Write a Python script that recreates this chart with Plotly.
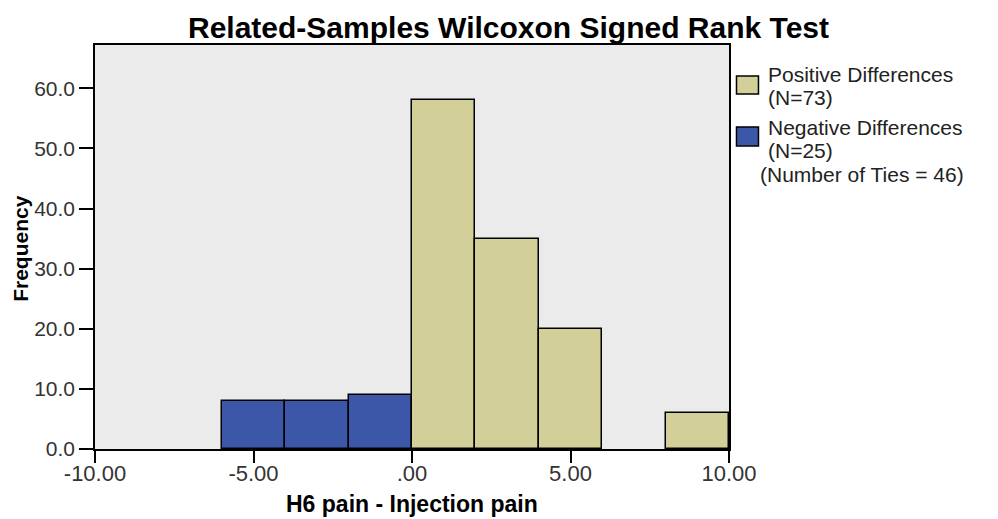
import plotly.graph_objects as go

# Data
neg_centers = [-5, -3, -1]
neg_counts = [8, 8, 9]
pos_centers = [1, 3, 5, 9]
pos_counts = [58, 35, 20, 6]
bin_width = 2
x_ticks = [-10, -5, 0, 5, 10]
x_tick_labels = ["-10.00", "-5.00", ".00", "5.00", "10.00"]
y_ticks = [0, 10, 20, 30, 40, 50, 60]
y_tick_labels = ["0.0", "10.0", "20.0", "30.0", "40.0", "50.0", "60.0"]
legend_pos = ["Positive Differences", "(N=73)"]
legend_neg = ["Negative Differences", "(N=25)"]
ties_text = "(Number of Ties = 46)"

POS_COLOR = "#D3CF98"
NEG_COLOR = "#3C57A8"
FONT = "Liberation Sans, Arial, sans-serif"

fig = go.Figure()
fig.add_trace(go.Bar(x=neg_centers, y=neg_counts, width=bin_width,
                     marker=dict(color=NEG_COLOR, line=dict(color="black", width=1.5)),
                     name="Negative Differences", showlegend=False))
fig.add_trace(go.Bar(x=pos_centers, y=pos_counts, width=bin_width,
                     marker=dict(color=POS_COLOR, line=dict(color="black", width=1.5)),
                     name="Positive Differences", showlegend=False))

# target image geometry (page has an 8px body margin)
OFF = 8
W, H = 998, 519
L, R, T, B = 95, 729.5, 45, 449.5

def px(xp):
    return (xp - L) / (R - L)

def py(yp):
    return (B - yp) / (B - T)

annotations = [
    dict(text="<b>Related-Samples Wilcoxon Signed Rank Test</b>", x=px(509), y=py(9),
         xref="paper", yref="paper", xanchor="center", yanchor="top", showarrow=False,
         font=dict(family=FONT, size=30, color="black")),
    dict(text="<b>Frequency</b>", x=px(21), y=py(249), xref="paper", yref="paper",
         xanchor="center", yanchor="middle", textangle=-90, showarrow=False,
         font=dict(family=FONT, size=21, color="black")),
    dict(text="<b>H6 pain - Injection pain</b>", x=px(412), y=py(505), xref="paper", yref="paper",
         xanchor="center", yanchor="middle", showarrow=False,
         font=dict(family=FONT, size=23, color="black")),
]
legend_lines = [(legend_pos[0], 767, 75), (legend_pos[1], 767, 98),
                (legend_neg[0], 767, 128), (legend_neg[1], 767, 151),
                (ties_text, 759, 175)]
for txt, xl, yc in legend_lines:
    annotations.append(dict(text=txt, x=px(xl), y=py(yc), xref="paper", yref="paper",
                            xanchor="left", yanchor="middle", showarrow=False,
                            font=dict(family=FONT, size=21, color="#222222")))

shapes = [
    dict(type="rect", xref="paper", yref="paper", x0=px(737), x1=px(759), y0=py(76), y1=py(94),
         fillcolor=POS_COLOR, line=dict(color="black", width=1.5)),
    dict(type="rect", xref="paper", yref="paper", x0=px(737), x1=px(759), y0=py(127), y1=py(146),
         fillcolor=NEG_COLOR, line=dict(color="black", width=1.5)),
]

fig.update_layout(
    width=W - OFF, height=H - OFF,
    margin=dict(l=L - OFF, r=W - R, t=T - OFF, b=H - B, pad=0),
    paper_bgcolor="white", plot_bgcolor="#EBEBEB",
    bargap=0, barmode="overlay",
    annotations=annotations, shapes=shapes,
    font=dict(family=FONT),
)
fig.update_xaxes(range=[-10, 10], tickvals=x_ticks, ticktext=x_tick_labels,
                 showgrid=False, zeroline=False, showline=True, linecolor="black", linewidth=1.5,
                 mirror=True, ticks="outside", ticklen=12, tickcolor="black", tickwidth=1.5,
                 ticklabelstandoff=-8,
                 tickfont=dict(family=FONT, size=22, color="#333333"))
fig.update_yaxes(range=[0, 67.2], tickvals=y_ticks, ticktext=y_tick_labels,
                 showgrid=False, zeroline=False, showline=True, linecolor="black", linewidth=1.5,
                 mirror=True, ticks="outside", ticklen=14, tickcolor="black", tickwidth=1.5,
                 tickfont=dict(family=FONT, size=21, color="#333333"))

fig.write_html("out.html")
